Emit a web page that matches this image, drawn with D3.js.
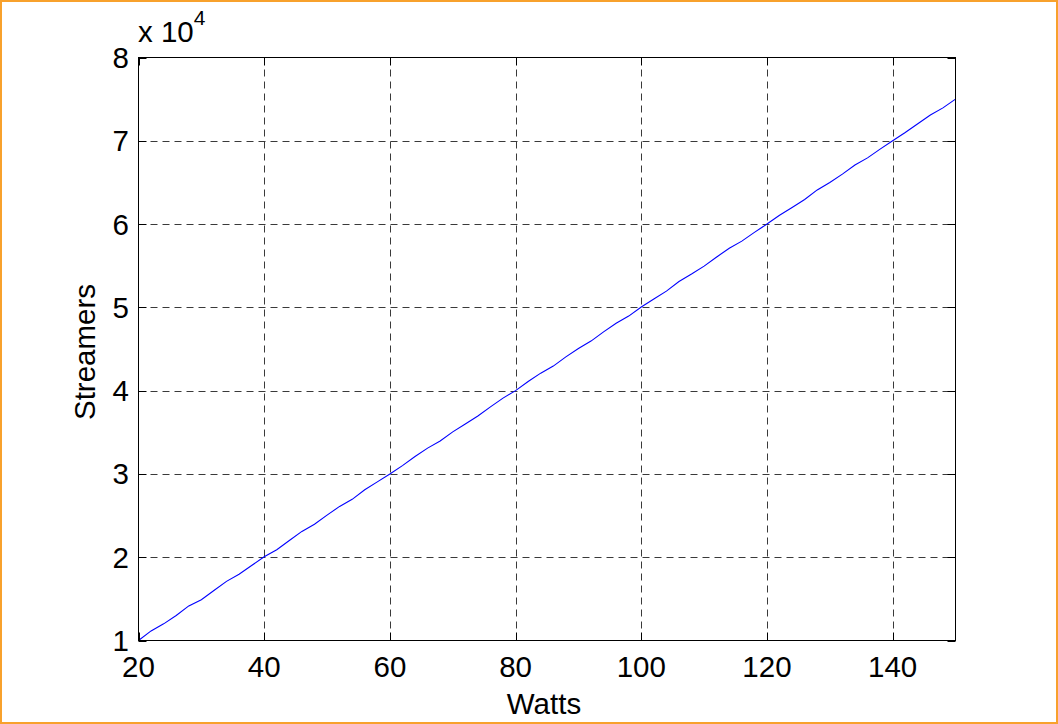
<!DOCTYPE html>
<html>
<head>
<meta charset="utf-8">
<script src="https://cdn.jsdelivr.net/npm/d3@7"></script>
<style>
  html, body { margin: 0; padding: 0; background: #fff; }
  svg { display: block; }
  text { font-family: "Liberation Sans", Arial, sans-serif; fill: #000; }
</style>
</head>
<body>
<script>
// Streamer count against input power
const watts = [20,22,24,26,28,30,32,34,36,38,40,42,44,46,48,50,52,54,56,58,
  60,62,64,66,68,70,72,74,76,78,80,82,84,86,88,90,92,94,96,98,
  100,102,104,106,108,110,112,114,116,118,120,122,124,126,128,130,
  132,134,136,138,140,142,144,146,148,150];
const streamers = [10000,11150,12000,13000,14150,14900,16000,17100,17950,19000,
  20050,20900,22000,23100,23950,25050,26100,26950,28100,29050,
  30000,31000,32100,33100,33950,35050,36000,36950,38050,39100,
  40000,41100,42100,42950,44050,45050,45950,47050,48100,48950,
  50050,51000,51950,53100,54000,54950,56050,57100,57950,59000,
  60000,61050,62000,62950,64100,65000,66000,67100,67950,69000,
  70000,71000,72050,73100,73950,75000];
const xTicks = [20,40,60,80,100,120,140];
const yTicks = [1,2,3,4,5,6,7,8];   // in units of 10^4
const yScaleExp = 4;

const W = 1058, H = 724;
const plotL = 138.5, plotR = 955.5, plotT = 57.5, plotB = 640.5;

const svg = d3.select("body").append("svg").attr("width", W).attr("height", H);

// outer frame
svg.append("rect").attr("x", 1).attr("y", 1).attr("width", W - 2).attr("height", H - 2)
  .attr("fill", "#fff").attr("stroke", "#f8a12c").attr("stroke-width", 2);

const x = d3.scaleLinear().domain([20, 150]).range([plotL, plotR]);
const y = d3.scaleLinear().domain([1, 8]).range([plotB, plotT]);

// grid
const grid = svg.append("g").attr("stroke", "#3a3a3a").attr("stroke-width", 1)
  .attr("stroke-dasharray", "7,5");
grid.selectAll("line.gx").data(xTicks.slice(1)).join("line").attr("class", "gx")
  .attr("x1", d => Math.round(x(d)) + 0.5).attr("x2", d => Math.round(x(d)) + 0.5)
  .attr("y1", plotT).attr("y2", plotB);
grid.selectAll("line.gy").data(yTicks.slice(1, -1)).join("line").attr("class", "gy")
  .attr("y1", d => Math.round(y(d)) + 0.5).attr("y2", d => Math.round(y(d)) + 0.5)
  .attr("x1", plotL).attr("x2", plotR);

// data line
const line = d3.line().x((d, i) => x(watts[i])).y(d => y(d / Math.pow(10, yScaleExp)));
svg.append("path").datum(streamers).attr("d", line)
  .attr("fill", "none").attr("stroke", "#0000ff").attr("stroke-width", 1.1);

// axes box with inward ticks on all sides
const tickLen = 8;
const axisG = svg.append("g").attr("stroke", "#000").attr("stroke-width", 1);
axisG.append("rect").attr("x", plotL).attr("y", plotT).attr("width", plotR - plotL).attr("height", plotB - plotT)
  .attr("fill", "none");
xTicks.forEach(t => {
  const px = Math.round(x(t)) + 0.5;
  axisG.append("line").attr("x1", px).attr("x2", px).attr("y1", plotB).attr("y2", plotB - tickLen);
  axisG.append("line").attr("x1", px).attr("x2", px).attr("y1", plotT).attr("y2", plotT + tickLen);
});
yTicks.forEach(t => {
  const py = Math.round(y(t)) + 0.5;
  axisG.append("line").attr("x1", plotL).attr("x2", plotL + tickLen).attr("y1", py).attr("y2", py);
  axisG.append("line").attr("x1", plotR).attr("x2", plotR - tickLen).attr("y1", py).attr("y2", py);
});

const fs = 29.5;
// x tick labels
svg.selectAll("text.xt").data(xTicks).join("text").attr("class", "xt")
  .attr("x", d => x(d)).attr("y", 677).attr("text-anchor", "middle")
  .attr("font-size", fs).text(d => d);
// y tick labels
svg.selectAll("text.yt").data(yTicks).join("text").attr("class", "yt")
  .attr("x", 129).attr("y", d => y(d) + 10.5).attr("text-anchor", "end")
  .attr("font-size", fs).text(d => d);

// exponent label
const ex = svg.append("text").attr("x", 138).attr("y", 42).attr("font-size", fs);
ex.append("tspan").text("x 10");
ex.append("tspan").attr("dy", -17).attr("font-size", 21).text(yScaleExp);

// axis titles
svg.append("text").attr("x", (plotL + plotR) / 2 - 3).attr("y", 714).attr("text-anchor", "middle")
  .attr("font-size", fs).text("Watts");
svg.append("text").attr("transform", `translate(95,${(plotT + plotB) / 2 + 3}) rotate(-90)`)
  .attr("text-anchor", "middle").attr("font-size", fs).text("Streamers");
</script>
</body>
</html>
